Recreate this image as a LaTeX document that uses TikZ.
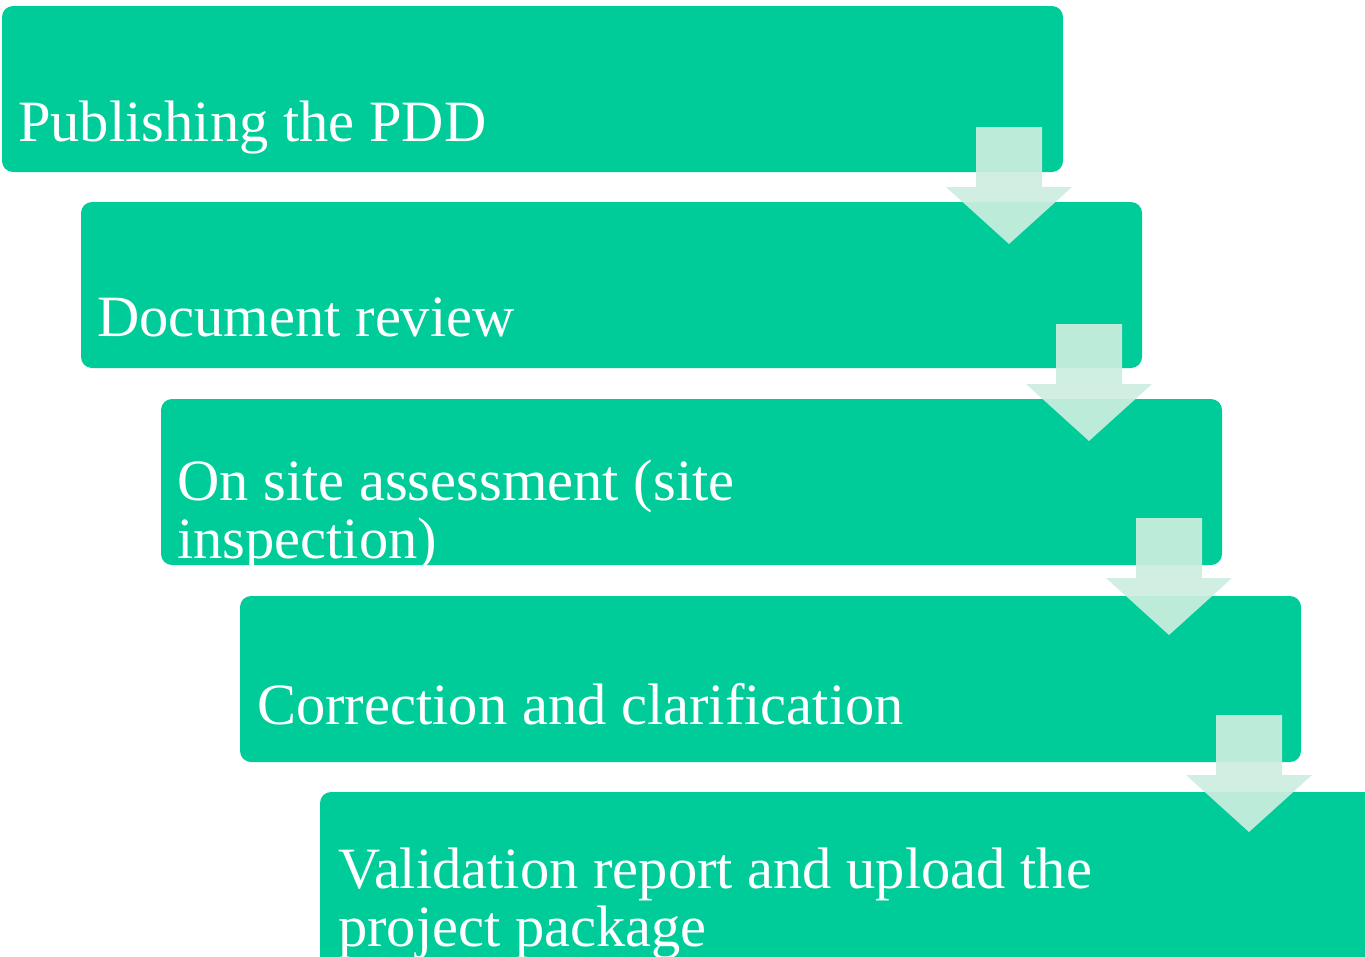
\documentclass[tikz,border=0pt]{standalone}
\usepackage{fontspec}
\setmainfont{Liberation Serif}
\definecolor{boxgreen}{RGB}{0,204,153}
\definecolor{arrowmint}{RGB}{204,238,224}
\begin{document}
\begin{tikzpicture}[x=1pt,y=-1pt,
  stepbox/.style={fill=boxgreen, draw=none, rounded corners=11pt, inner sep=0pt, outer sep=0pt,
    minimum width=1061pt, minimum height=166pt, anchor=north west},
  lbl/.style={text=white, font=\fontsize{58.5}{58}\selectfont, inner sep=0pt, align=left, anchor=base west},
  downarrow/.style={fill=arrowmint, fill opacity=0.92, draw=none}]
\useasboundingbox (0,0) rectangle (1365,956);
\clip (0,0) rectangle (1365,956);
% boxes
\node[stepbox] (b1) at (2,6) {};
\node[stepbox] (b2) at (81,202) {};
\node[stepbox] (b3) at (161,399) {};
\node[stepbox] (b4) at (240,596) {};
\node[stepbox, minimum width=1080pt, minimum height=190pt] (b5) at (320,792) {};
% labels
\node[lbl] (t1) at (18,141) {Publishing the PDD};
\node[lbl] (t2) at (97,336) {Document review};
\node[lbl] (t3) at (177,558) {On site assessment (site\\inspection)};
\node[lbl] (t4) at (257,724) {Correction and clarification};
\node[lbl] (t5) at (338,946) {Validation report and upload the\\project package};
% arrows between steps
\foreach \i/\dx/\dy in {1/0/0, 2/80/197, 3/160/391, 4/240/588} {
  \path[downarrow] (976+\dx,127+\dy) -- (1042+\dx,127+\dy) -- (1042+\dx,187+\dy)
    -- (1072+\dx,187+\dy) -- (1009+\dx,244+\dy) -- (946+\dx,187+\dy)
    -- (976+\dx,187+\dy) -- cycle;
}
\end{tikzpicture}
\end{document}
